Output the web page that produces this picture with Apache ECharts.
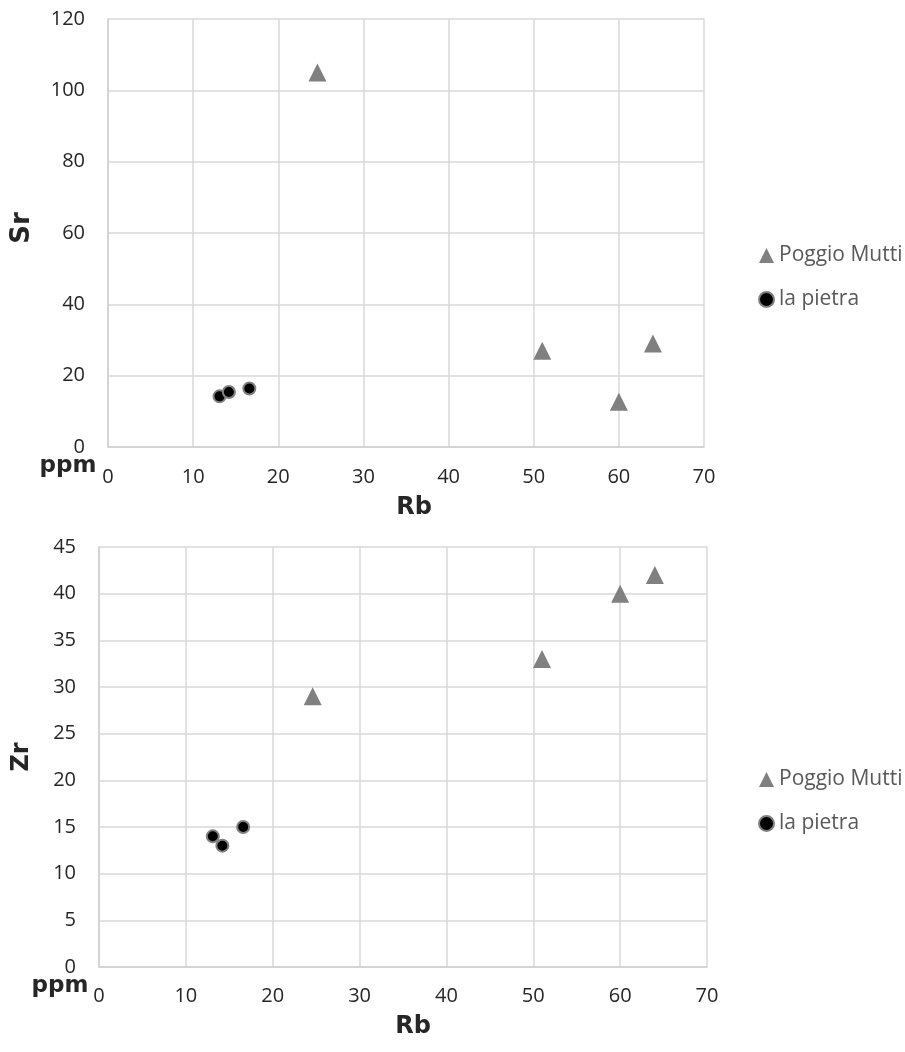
<!DOCTYPE html>
<html>
<head>
<meta charset="utf-8">
<script src="https://cdn.jsdelivr.net/npm/echarts@6/dist/echarts.min.js"></script>
<style>
html,body{margin:0;padding:0;background:#fff;}
#chart{width:905px;height:1052px;}
</style>
</head>
<body>
<div id="chart"></div>
<script>
// Data
const seriesNames = ['Poggio Mutti', 'la pietra'];
const rbPoggio = [24.6, 51, 60, 64];
const srPoggio = [105, 27, 12.7, 29];
const zrPoggio = [29, 33, 40, 42];
const rbPietra = [13.1, 14.2, 16.6];
const srPietra = [14.2, 15.4, 16.4];
const zrPietra = [14, 13, 15];
const xTicks = [0, 10, 20, 30, 40, 50, 60, 70];
const srTicks = [0, 20, 40, 60, 80, 100, 120];
const zrTicks = [0, 5, 10, 15, 20, 25, 30, 35, 40, 45];

const pairs = (xs, ys) => xs.map((x, i) => [x, ys[i]]);

const tickFont = {fontFamily: 'Open Sans', fontSize: 20, color: '#262626'};
const titleFont = {fontFamily: 'DejaVu Sans', fontWeight: 'bold', fontSize: 23, fill: '#262626'};
const gridLine = {lineStyle: {color: '#d9d9d9', width: 1.5}};

function xAxis(gridIndex, margin) {
  return {
    type: 'value', gridIndex,
    min: xTicks[0], max: xTicks[xTicks.length - 1], interval: xTicks[1] - xTicks[0],
    axisLine: {show: true, lineStyle: {color: '#d0d0d0', width: 1.5}},
    axisTick: {show: false},
    splitLine: Object.assign({show: true}, gridLine),
    axisLabel: Object.assign({margin}, tickFont)
  };
}
function yAxis(gridIndex, ticks) {
  return {
    type: 'value', gridIndex,
    min: ticks[0], max: ticks[ticks.length - 1], interval: ticks[1] - ticks[0],
    axisLine: {show: true, lineStyle: {color: '#d0d0d0', width: 1.5}},
    axisTick: {show: false},
    splitLine: Object.assign({show: true}, gridLine),
    axisLabel: Object.assign({margin: 23}, tickFont)
  };
}
const triStyle = {color: '#808080', opacity: 1};
const dotStyle = {color: '#000000', borderColor: '#808080', borderWidth: 2, opacity: 1};

const legendBase = {
  orient: 'vertical', left: 758, padding: 0, itemWidth: 15, itemHeight: 15, itemGap: 23,
  textStyle: {fontFamily: 'Open Sans', fontSize: 21, color: '#595959'}
};

const option = {
  animation: false,
  backgroundColor: '#ffffff',
  grid: [
    {left: 108, top: 19, width: 596, height: 428},
    {left: 99, top: 547, width: 608, height: 420}
  ],
  xAxis: [xAxis(0, 20), xAxis(1, 19)],
  yAxis: [yAxis(0, srTicks), yAxis(1, zrTicks)],
  legend: [
    Object.assign({}, legendBase, {top: 245, data: [{name: seriesNames[0]}, {name: seriesNames[1]}]}),
    Object.assign({}, legendBase, {top: 769, data: [{name: seriesNames[0] + ' '}, {name: seriesNames[1] + ' '}],
      formatter: n => n.trim()})
  ],
  series: [
    {name: seriesNames[0], type: 'scatter', xAxisIndex: 0, yAxisIndex: 0, symbol: 'triangle', symbolSize: 18,
     itemStyle: triStyle, data: pairs(rbPoggio, srPoggio)},
    {name: seriesNames[1], type: 'scatter', xAxisIndex: 0, yAxisIndex: 0, symbol: 'circle', symbolSize: 12,
     itemStyle: dotStyle, data: pairs(rbPietra, srPietra)},
    {name: seriesNames[0] + ' ', type: 'scatter', xAxisIndex: 1, yAxisIndex: 1, symbol: 'triangle', symbolSize: 18,
     itemStyle: triStyle, data: pairs(rbPoggio, zrPoggio)},
    {name: seriesNames[1] + ' ', type: 'scatter', xAxisIndex: 1, yAxisIndex: 1, symbol: 'circle', symbolSize: 12,
     itemStyle: dotStyle, data: pairs(rbPietra, zrPietra)}
  ],
  graphic: [
    {type: 'text', style: Object.assign({}, titleFont, {text: 'Sr', x: 22, y: 228, fontSize: 26, align: 'center', verticalAlign: 'middle'}),
     rotation: Math.PI / 2, originX: 22, originY: 228},
    {type: 'text', style: Object.assign({}, titleFont, {text: 'Zr', x: 22, y: 757, fontSize: 24, align: 'center', verticalAlign: 'middle'}),
     rotation: Math.PI / 2, originX: 22, originY: 757},
    {type: 'text', style: Object.assign({}, titleFont, {text: 'Rb', x: 414, y: 508, fontSize: 24, align: 'center', verticalAlign: 'middle'})},
    {type: 'text', style: Object.assign({}, titleFont, {text: 'Rb', x: 413, y: 1027, fontSize: 24, align: 'center', verticalAlign: 'middle'})},
    {type: 'text', style: Object.assign({}, titleFont, {text: 'ppm', x: 68, y: 466, align: 'center', verticalAlign: 'middle'})},
    {type: 'text', style: Object.assign({}, titleFont, {text: 'ppm', x: 60, y: 986, align: 'center', verticalAlign: 'middle'})}
  ]
};

const chart = echarts.init(document.getElementById('chart'));
chart.setOption(option);
</script>
</body>
</html>
